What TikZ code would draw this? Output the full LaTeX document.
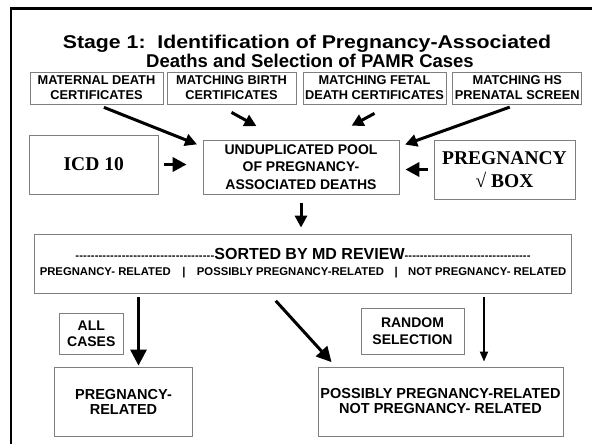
\documentclass[tikz,border=0pt]{standalone}
\usepackage{fontspec}
\setmainfont{Liberation Sans}
\newfontfamily\timesfont{Liberation Serif}
\usetikzlibrary{arrows.meta}
\definecolor{pgrey}{HTML}{7F7F7F}
\newcommand{\fsz}[2]{\fontsize{#1}{#2}\selectfont}
\newcommand{\dashrun}[1]{{\fsz{11.3}{11.3}\hbox to #1{\xleaders\hbox{-}\hfill}}}

\begin{document}
\begin{tikzpicture}[x=1pt, y=-1pt, font=\bfseries,
  box/.style={draw=pgrey, line width=0.8pt, align=center, inner sep=0.5pt},
  arr/.style={line width=3pt, -{Triangle[length=#1, width=#1]}}, arr/.default=12pt,
  thinarr/.style={line width=1.8pt, -{Triangle[length=10pt, width=8pt]}}]
  \useasboundingbox (0,0) rectangle (592,444);
  % --- frame and title
  \draw[line width=2.8pt] (11,444) -- (11,8.5) -- (592,8.5);
  \node[font=\bfseries\fsz{18.5}{18.5}, anchor=base] (ttl1) at (307,48.5) {\scalebox{1.15}[1]{Stage 1:\ \ Identification of Pregnancy-Associated}};
  \node[font=\bfseries\fsz{18.5}{18.5}, anchor=base] (ttl2) at (310,67) {Deaths and Selection of PAMR Cases};
  % --- sources (top row)
  \node[box, minimum width=133pt, minimum height=32pt, font=\bfseries\fsz{12.8}{15}] (mdc) at (96.5,88) {MATERNAL DEATH\\CERTIFICATES};
  \node[box, minimum width=129pt, minimum height=32pt, font=\bfseries\fsz{12.8}{15}] (mbc) at (231.5,88) {MATCHING BIRTH\\CERTIFICATES};
  \node[box, minimum width=143pt, minimum height=32pt, font=\bfseries\fsz{12.8}{15}] (mfd) at (374.5,88) {MATCHING FETAL\\DEATH CERTIFICATES};
  \node[box, minimum width=129pt, minimum height=32pt, font=\bfseries\fsz{12.8}{15}] (hs) at (517.3,88) {MATCHING HS\\PRENATAL SCREEN};
  % --- pool with side sources
  \node[box, minimum width=129pt, minimum height=59pt, font=\timesfont\bfseries\fsz{19.5}{23}] (icd) at (93.7,164.5) {ICD 10};
  \node[box, minimum width=196pt, minimum height=54pt, font=\bfseries\fsz{14}{17.5}] (pool) at (301,167) {UNDUPLICATED POOL\\OF PREGNANCY-\\ASSOCIATED DEATHS};
  \node[box, minimum width=141pt, minimum height=59pt, font=\timesfont\bfseries\fsz{19.5}{23}] (preg) at (504.5,169.5) {PREGNANCY\\√ BOX};
  % --- review
  \node[box, minimum width=537pt, minimum height=59pt, font=\bfseries\fsz{11.3}{16}] (sorted) at (303,263.5)
    {{\fsz{16}{16}\dashrun{139pt}SORTED BY MD REVIEW\dashrun{126pt}}\\
     PREGNANCY- RELATED\hspace{11.5pt}|\hspace{11.5pt}POSSIBLY PREGNANCY-RELATED\hspace{10.5pt}|\hspace{10.5pt}NOT PREGNANCY- RELATED};
  % --- selection (bottom row)
  \node[box, minimum width=64pt, minimum height=41pt, font=\bfseries\fsz{14}{16}] (all) at (91.3,333.4) {ALL\\CASES};
  \node[box, minimum width=103pt, minimum height=46pt, font=\bfseries\fsz{14}{16.5}] (rnd) at (412.5,331) {RANDOM\\SELECTION};
  \node[box, minimum width=138pt, minimum height=69pt, font=\bfseries\fsz{14.5}{15}] (prel) at (123.5,401.5) {PREGNANCY-\\RELATED};
  \node[box, minimum width=245pt, minimum height=69pt, font=\bfseries\fsz{14.5}{15}] (poss) at (440.5,401.5) {POSSIBLY PREGNANCY-RELATED\\NOT PREGNANCY- RELATED};
  \draw[arr, shorten <=8pt, shorten >=6pt] (mdc.south) -- ([yshift=-7pt]pool.north west);
  \draw[arr, shorten >=28pt] ([yshift=-8pt]mbc.south) -- ([xshift=-20pt]pool.north);
  \draw[arr, shorten >=29pt] ([yshift=-9pt]mfd.south) -- ([xshift=25pt]pool.north);
  \draw[arr, shorten <=8pt, shorten >=6pt] (hs.south) -- ([yshift=-7pt]pool.north east);
  \draw[arr=14pt, line width=3.8pt, shorten <=5pt, shorten >=16pt] (icd.east) -- (icd.east -| pool.west);
  \draw[arr=14pt, line width=3.8pt, shorten <=6pt, shorten >=6pt] (preg.west) -- (preg.west -| pool.east);
  \draw[arr, shorten <=9pt, shorten >=6pt] (pool.south) -- (pool.south |- sorted.north);
  \draw[arr=16pt, shorten <=4pt, shorten >=1pt] ([xshift=15pt]prel.north |- sorted.south) -- ([xshift=15pt]prel.north);
  \draw[arr=15pt, shorten <=10pt, shorten >=6pt] ([xshift=-34pt]sorted.south) -- ([xshift=18pt]poss.north west);
  \draw[thinarr, shorten <=4pt, shorten >=5pt] ([xshift=43.5pt]poss.north |- sorted.south) -- ([xshift=43.5pt]poss.north);
\end{tikzpicture}
\end{document}
